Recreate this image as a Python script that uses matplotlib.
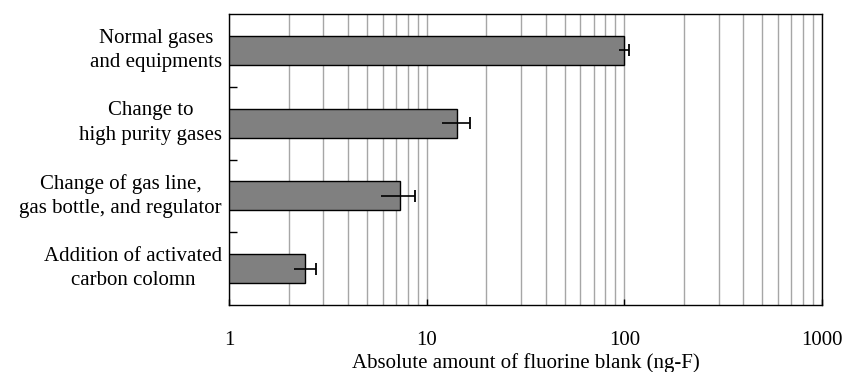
import numpy as np
import matplotlib
matplotlib.use("Agg")
from matplotlib import pyplot as plt
from matplotlib.ticker import LogLocator, NullFormatter, FixedLocator

plt.rcParams['font.family'] = ['Liberation Serif', 'DejaVu Serif']

labels = ['Normal gases\nand equipments',
          'Change to\nhigh purity gases',
          'Change of gas line,\ngas bottle, and regulator',
          'Addition of activated\ncarbon colomn']
values = [100, 14.3, 7.3, 2.43]
errors = [6, 2.3, 1.4, 0.31]

fig = plt.figure(figsize=(8.45, 3.72), dpi=100)
ax = fig.add_axes([229/845, 1 - 305/372, (822 - 229)/845, (305 - 14)/372])

y = np.arange(len(labels))
ax.barh(y, values, height=0.4, color='#808080', edgecolor='black', linewidth=1.0, zorder=3)
# error bars: line both ways, cap only on the plus side
ax.errorbar(values, y, xerr=errors, fmt='none', ecolor='black', elinewidth=1.2,
            capsize=0, zorder=4)
ax.plot(np.array(values) + np.array(errors), y, linestyle='none', marker='|',
        markersize=9, markeredgewidth=1.3, color='black', zorder=4)

ax.set_xscale('log')
ax.set_xlim(1, 1000)
ax.set_ylim(len(labels) - 0.5, -0.5)

ax.xaxis.set_major_locator(FixedLocator([1, 10, 100, 1000]))
ax.xaxis.set_minor_locator(LogLocator(base=10, subs=np.arange(2, 10)))
ax.xaxis.set_minor_formatter(NullFormatter())
ax.set_xticklabels(['1', '10', '100', '1000'])
ax.grid(True, axis='x', which='both', color='#a6a6a6', linewidth=1.0, zorder=0)
ax.tick_params(axis='x', which='major', direction='in', length=4, width=1.0,
               pad=19, labelsize=15)
ax.tick_params(axis='x', which='minor', length=0)

# category labels placed at centers, ticks at the boundaries
ax.set_yticks(y[:-1] + 0.5)
ax.set_yticklabels([])
ax.tick_params(axis='y', direction='in', length=6, width=1.0)
for yi, lab in zip(y, labels):
    ax.text(-0.012, yi, lab, transform=ax.get_yaxis_transform(), ha='right', va='center',
            multialignment='center', fontsize=15, linespacing=1.38)

for s in ax.spines.values():
    s.set_linewidth(1.0)
    s.set_zorder(5)

ax.set_xlabel('Absolute amount of fluorine blank (ng-F)', fontsize=15, labelpad=2)

fig.savefig('out.png', dpi=100)
